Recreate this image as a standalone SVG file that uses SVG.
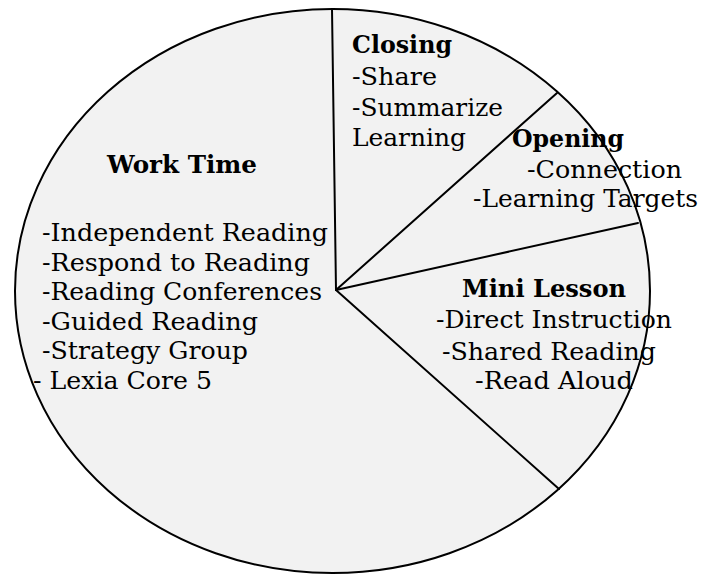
<svg xmlns="http://www.w3.org/2000/svg" width="709" height="576" viewBox="0 0 709 576">
  <style>
    .pie { fill: #f2f2f2; stroke: #000; stroke-width: 2; }
    .div { stroke: #000; stroke-width: 2; fill: none; stroke-linecap: round; }
    text { font-family: "DejaVu Serif", "Liberation Serif", serif; font-size: 24.5px; fill: #000; }
    .h { font-weight: bold; font-size: 24px; }
  </style>
  <rect width="709" height="576" fill="#fff"/>
  <ellipse class="pie" cx="332.5" cy="291" rx="317.5" ry="282"/>
  <g id="connectors">
    <line class="div" x1="336" y1="290" x2="332" y2="9"/>
    <line class="div" x1="336" y1="290" x2="557" y2="93"/>
    <line class="div" x1="336" y1="290" x2="638" y2="223"/>
    <line class="div" x1="336" y1="290" x2="559" y2="489"/>
  </g>
  <g id="work-time">
    <text class="h" x="107" y="173" textLength="150" lengthAdjust="spacingAndGlyphs">Work Time</text>
    <text x="42" y="241" textLength="286" lengthAdjust="spacingAndGlyphs">-Independent Reading</text>
    <text x="42" y="271" textLength="268" lengthAdjust="spacingAndGlyphs">-Respond to Reading</text>
    <text x="42" y="300" textLength="280" lengthAdjust="spacingAndGlyphs">-Reading Conferences</text>
    <text x="42" y="330" textLength="216" lengthAdjust="spacingAndGlyphs">-Guided Reading</text>
    <text x="42" y="359" textLength="206" lengthAdjust="spacingAndGlyphs">-Strategy Group</text>
    <text x="33" y="389" textLength="179" lengthAdjust="spacingAndGlyphs">- Lexia Core 5</text>
  </g>
  <g id="closing">
    <text class="h" x="352" y="53" textLength="100" lengthAdjust="spacingAndGlyphs">Closing</text>
    <text x="352" y="85" textLength="85" lengthAdjust="spacingAndGlyphs">-Share</text>
    <text x="352" y="116" textLength="151" lengthAdjust="spacingAndGlyphs">-Summarize</text>
    <text x="352" y="146" textLength="114" lengthAdjust="spacingAndGlyphs">Learning</text>
  </g>
  <g id="opening">
    <text class="h" x="512" y="147" textLength="112" lengthAdjust="spacingAndGlyphs">Opening</text>
    <text x="527" y="178" textLength="155" lengthAdjust="spacingAndGlyphs">-Connection</text>
    <text x="473" y="207" textLength="225" lengthAdjust="spacingAndGlyphs">-Learning Targets</text>
  </g>
  <g id="mini-lesson">
    <text class="h" x="462" y="297" textLength="164" lengthAdjust="spacingAndGlyphs">Mini Lesson</text>
    <text x="436" y="328" textLength="236" lengthAdjust="spacingAndGlyphs">-Direct Instruction</text>
    <text x="442" y="360" textLength="214" lengthAdjust="spacingAndGlyphs">-Shared Reading</text>
    <text x="475" y="389" textLength="158" lengthAdjust="spacingAndGlyphs">-Read Aloud</text>
  </g>
</svg>
